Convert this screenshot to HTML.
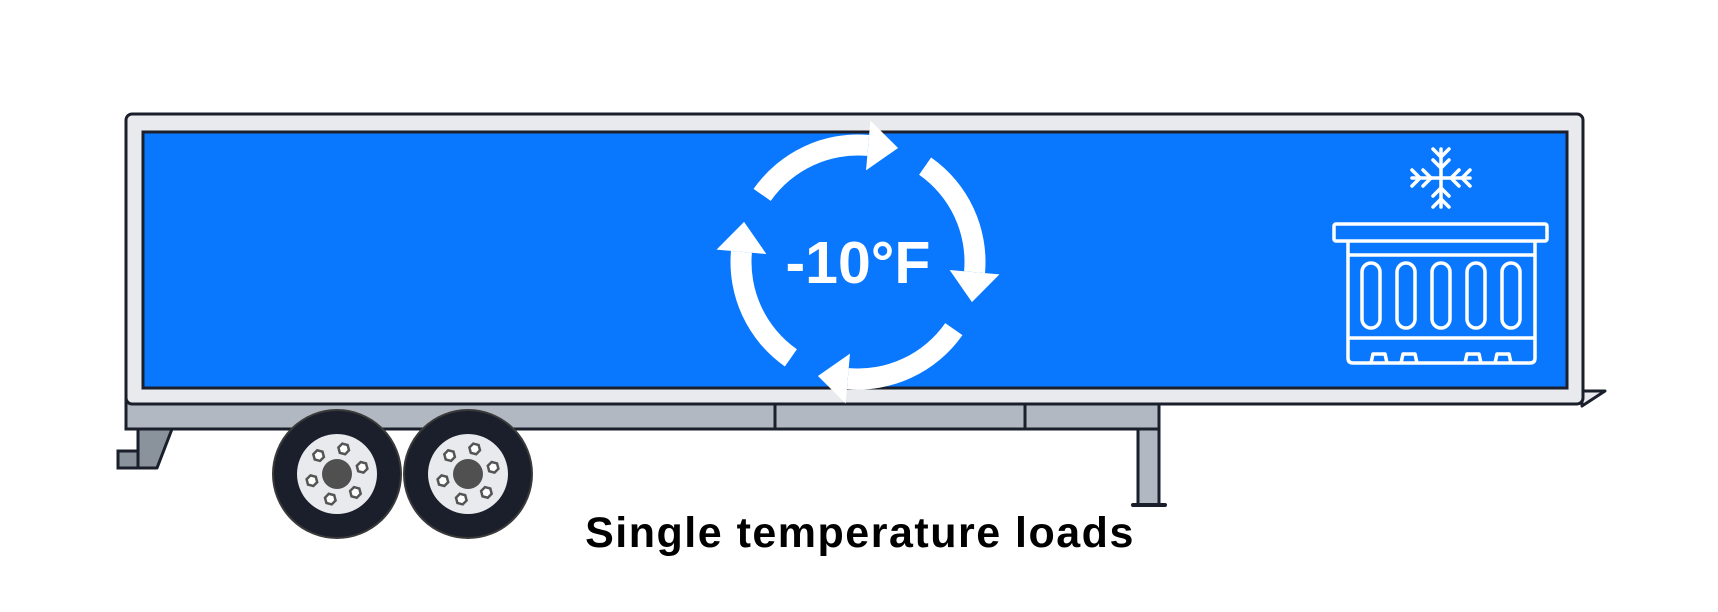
<!DOCTYPE html>
<html><head><meta charset="utf-8"><style>
html,body{margin:0;padding:0;background:#fff;width:1718px;height:612px;overflow:hidden}
svg{display:block}
</style></head><body>
<svg id="s" width="1718" height="612" viewBox="0 0 1718 612" xmlns="http://www.w3.org/2000/svg">
<path d="M138 429 L172 429 L157 468 L138 468 Z" fill="#8a929b" stroke="#1a1f2b" stroke-width="3" stroke-linejoin="round"/>
<rect x="118" y="451" width="20" height="17" fill="#8a929b" stroke="#1a1f2b" stroke-width="3"/>
<rect x="1138" y="425" width="21" height="80" fill="#b1b8c1" stroke="#1a1f2b" stroke-width="3"/>
<rect x="1131" y="503" width="36" height="4" rx="2" fill="#1a1f2b"/>
<rect x="126" y="400" width="1033" height="29" fill="#b1b8c1" stroke="#1a1f2b" stroke-width="3"/>
<line x1="775" y1="402" x2="775" y2="429" stroke="#1a1f2b" stroke-width="3"/>
<line x1="1025" y1="402" x2="1025" y2="429" stroke="#1a1f2b" stroke-width="3"/>
<path d="M1582 391 L1605 391 L1582 406 Z" fill="#e9eaed" stroke="#1a1f2b" stroke-width="3" stroke-linejoin="round"/>
<rect x="126" y="114" width="1457" height="290" rx="6" fill="#e9eaed" stroke="#1a1f2b" stroke-width="3"/>
<rect x="143" y="132" width="1424" height="256" fill="#0a78fe" stroke="#1a1f2b" stroke-width="3"/>
<g id="wheels"></g>
<g id="arrows" fill="#fff"></g>
<text x="858" y="283" text-anchor="middle" font-family="Liberation Sans, sans-serif" font-weight="bold" font-size="59" fill="#fff">-10°F</text>
<g stroke="#fff" stroke-width="3.5" stroke-linecap="round" fill="none">
<line x1="1441" y1="149" x2="1441" y2="207"/>
<line x1="1412" y1="178" x2="1470" y2="178"/>
<path d="M1433 149 L1441 157 L1449 149 M1433 160 L1441 168 L1449 160 M1433 207 L1441 199 L1449 207 M1433 196 L1441 188 L1449 196"/>
<path d="M1412 170 L1420 178 L1412 186 M1423 170 L1431 178 L1423 186 M1470 170 L1462 178 L1470 186 M1459 170 L1451 178 L1459 186"/>
</g>
<g stroke="#fff" stroke-width="3.5" fill="none" stroke-linejoin="round">
<rect x="1334" y="224" width="213" height="17" rx="2"/>
<path d="M1348 241 L1348 358 Q1348 363 1353 363 L1530 363 Q1535 363 1535 358 L1535 241"/>
<line x1="1348" y1="255" x2="1535" y2="255"/>
<line x1="1348" y1="338" x2="1535" y2="338"/>
<rect x="1362" y="263" width="18" height="65" rx="9"/>
<rect x="1397" y="263" width="18" height="65" rx="9"/>
<rect x="1432" y="263" width="18" height="65" rx="9"/>
<rect x="1467" y="263" width="18" height="65" rx="9"/>
<rect x="1502" y="263" width="18" height="65" rx="9"/>
<path d="M1371 363 L1373 354 L1385 354 L1387 363 M1401 363 L1403 354 L1415 354 L1417 363 M1465 363 L1467 354 L1479 354 L1481 363 M1495 363 L1497 354 L1509 354 L1511 363"/>
</g>
<text x="860" y="547" text-anchor="middle" font-family="Liberation Sans, sans-serif" font-weight="bold" font-size="43" letter-spacing="1.5" fill="#000">Single temperature loads</text>
</svg>
<script>
(function(){
var w=document.getElementById("wheels");
[337,468].forEach(function(cx){
  var cy=474,h='';
  h+='<circle cx="'+cx+'" cy="'+cy+'" r="64" fill="#1a1f2b" stroke="#3a3a3a" stroke-width="2"/>';
  h+='<circle cx="'+cx+'" cy="'+cy+'" r="40" fill="#e9eaed"/>';
  h+='<circle cx="'+cx+'" cy="'+cy+'" r="15" fill="#505050"/>';
  for(var i=0;i<6;i++){
    var a=(-75+i*60)*Math.PI/180,nx=cx+26*Math.cos(a),ny=cy+26*Math.sin(a),p=[];
    for(var k=0;k<6;k++){var b=(k*60+15)*Math.PI/180;p.push((nx+5.5*Math.cos(b)).toFixed(1)+','+(ny+5.5*Math.sin(b)).toFixed(1));}
    h+='<polygon points="'+p.join(' ')+'" fill="#fff" stroke="#555" stroke-width="2.5"/>';
  }
  w.insertAdjacentHTML('beforeend',h);
});
var g=document.getElementById("arrows"),cx=858,cy=262,r=117,sw=21,out='';
function P(rr,deg){var a=deg*Math.PI/180;return [cx+rr*Math.cos(a),cy+rr*Math.sin(a)];}
for(var k=0;k<4;k++){
  var t0=125+90*k,t1=t0+60;
  var ro=r+sw/2,ri=r-sw/2;
  var a=P(ro,t0),b=P(ro,t1),c=P(ri,t1),d=P(ri,t0);
  out+='<path d="M'+a+' A'+ro+' '+ro+' 0 0 1 '+b+' L'+c+' A'+ri+' '+ri+' 0 0 0 '+d+' Z"/>';
  var m=P(r,t1),th=t1*Math.PI/180;
  var tx=-Math.sin(th),ty=Math.cos(th),nx=Math.cos(th),ny=Math.sin(th);
  var tip=[m[0]+tx*30,m[1]+ty*30],e1=[m[0]+nx*25,m[1]+ny*25],e2=[m[0]-nx*25,m[1]-ny*25];
  out+='<polygon points="'+tip+' '+e1+' '+e2+'"/>';
}
g.innerHTML=out;
})();
</script>
</body></html>
